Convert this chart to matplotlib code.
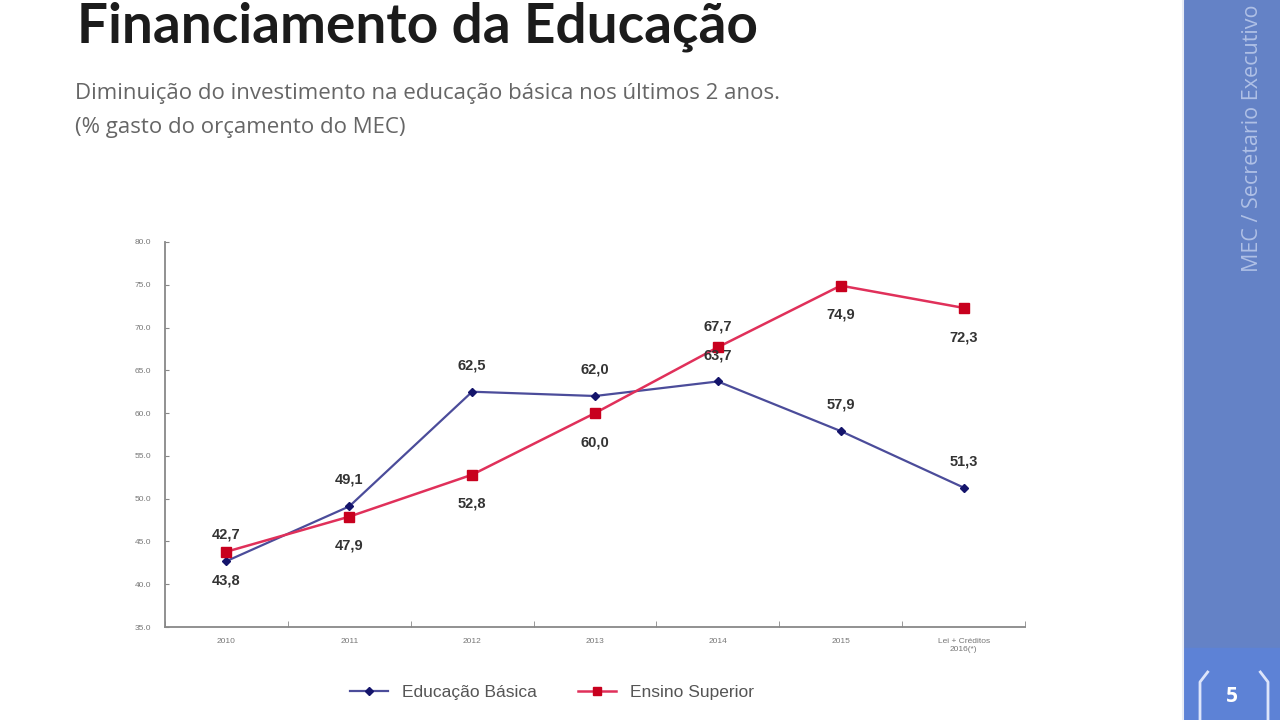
import matplotlib.pyplot as plt
from matplotlib.patches import Rectangle
from matplotlib.lines import Line2D

categorias = ['2010', '2011', '2012', '2013', '2014', '2015', 'Lei + Créditos\n2016(*)']
educacao_basica = [42.7, 49.1, 62.5, 62.0, 63.7, 57.9, 51.3]
ensino_superior = [43.8, 47.9, 52.8, 60.0, 67.7, 74.9, 72.3]
# rotulos acima (+) ou abaixo (-) do ponto
pos_basica = [1, 1, 1, 1, 1, 1, 1]
pos_superior = [-1, -1, -1, -1, 1, -1, -1]


def main():
    fig = plt.figure(figsize=(12.8, 7.2), dpi=100)
    fig.patch.set_facecolor('white')

    # faixa lateral azul
    fig.patches.append(Rectangle((0.9250, 0), 0.075, 1, transform=fig.transFigure,
                                 color='#6482C6', zorder=0))
    fig.patches.append(Rectangle((0.9250, 0), 0.075, 0.10, transform=fig.transFigure,
                                 color='#5D82D6', zorder=0))
    fig.add_artist(Line2D([0.9242, 0.9242], [0, 1], color='#e8ecf6', lw=1.5))
    fig.text(1252 / 1280, 1 - 272 / 720, 'MEC / Secretario Executivo', rotation=90,
             ha='center', va='bottom', color='#AFC0E6', fontsize=15.5, family='Open Sans')
    for x0, sgn in [(1200 / 1280, 1), (1268 / 1280, -1)]:
        fig.add_artist(Line2D([x0 + sgn * 0.006, x0, x0], [1 - 672 / 720, 1 - 682 / 720, 0],
                              color='#dde5fa', lw=2))
    fig.text(1232 / 1280, 1 - 697 / 720, '5', ha='center', va='center', color='white',
             fontsize=15, fontweight='bold', family='Open Sans')

    # titulo e subtitulo
    fig.text(77 / 1280, 1 - 43 / 720, 'Financiamento da Educação', ha='left', va='baseline',
             fontsize=39.5, fontweight='bold', color='#1b1b1b', family='Lato')
    fig.text(75 / 1280, 1 - 94 / 720, 'Diminuição do investimento na educação básica nos últimos 2 anos.',
             ha='left', va='center', fontsize=16, color='#666666', family='Open Sans')
    fig.text(75 / 1280, 1 - 128 / 720, '(% gasto do orçamento do MEC)',
             ha='left', va='center', fontsize=16, color='#666666', family='Open Sans')

    ax = fig.add_axes([165 / 1280, 1 - 627 / 720, 860 / 1280, 385 / 720])
    x = list(range(len(categorias)))

    ax.plot(x, educacao_basica, color='#4B4C9A', lw=1.6, marker='D', markersize=4.5,
            markerfacecolor='#14146B', markeredgecolor='#14146B', label='Educação Básica', zorder=3)
    ax.plot(x, ensino_superior, color='#E0305A', lw=1.8, marker='s', markersize=7.5,
            markerfacecolor='#C8001E', markeredgecolor='#C8001E', label='Ensino Superior', zorder=4)

    for xi, v, p in zip(x, educacao_basica, pos_basica):
        ax.annotate(f'{v:.1f}'.replace('.', ','), (xi, v), xytext=(0, 19 * p), textcoords='offset points',
                    ha='center', va='center', fontsize=10.5, fontweight='bold', color='#333333',
                    family='Liberation Sans', zorder=5)
    for xi, v, p in zip(x, ensino_superior, pos_superior):
        off = 15 if p > 0 else -21
        ax.annotate(f'{v:.1f}'.replace('.', ','), (xi, v), xytext=(0, off), textcoords='offset points',
                    ha='center', va='center', fontsize=10.5, fontweight='bold', color='#333333',
                    family='Liberation Sans', zorder=5)

    ax.set_xlim(-0.5, len(categorias) - 0.5)
    ax.set_ylim(35, 80)
    ax.set_yticks(range(35, 81, 5))
    ax.set_yticklabels([f'{t:.1f}' for t in range(35, 81, 5)])
    ax.set_xticks(x)
    ax.set_xticklabels(categorias)
    ax.set_xticks([i + 0.5 for i in range(-1, len(categorias))], minor=True)
    ax.tick_params(axis='x', which='major', length=0, pad=8, labelsize=6, labelcolor='#777777')
    ax.tick_params(axis='x', which='minor', length=4, color='#888888', direction='in')
    ax.tick_params(axis='y', length=3, color='#888888', direction='in', labelsize=6,
                   labelcolor='#777777', pad=10)
    for lbl in ax.get_xticklabels() + ax.get_yticklabels():
        lbl.set_family('Liberation Sans')
    for s in ['top', 'right']:
        ax.spines[s].set_visible(False)
    for s in ['left', 'bottom']:
        ax.spines[s].set_color('#888888')
        ax.spines[s].set_linewidth(1.3)

    fig.legend(loc='center', bbox_to_anchor=(552 / 1280, 1 - 692 / 720), ncol=2, frameon=False,
               prop={'family': 'Liberation Sans', 'size': 12.5}, labelcolor='#555555',
               handlelength=2.2, columnspacing=2.4, markerscale=0.85)

    fig.savefig('out.png', dpi=100)


if __name__ == '__main__':
    main()
